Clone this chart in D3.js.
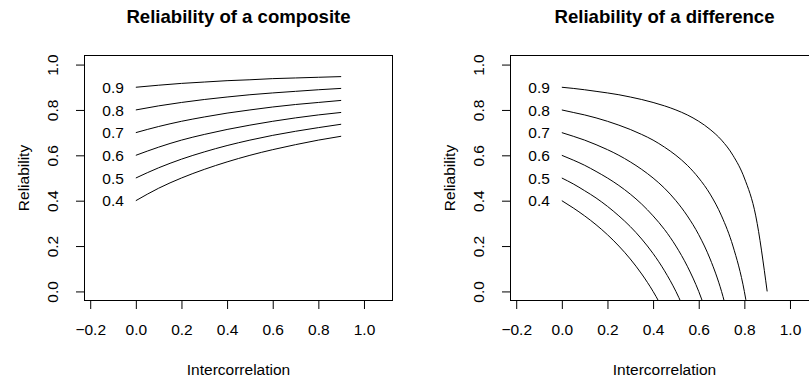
<!DOCTYPE html>
<html>
<head>
<meta charset="utf-8">
<script src="https://cdn.jsdelivr.net/npm/d3@7"></script>
<style>
  body { margin: 0; background: #fff; }
  text { font-family: "Liberation Sans", Arial, Helvetica, sans-serif; fill: #000; }
</style>
</head>
<body>
<div id="chart"></div>
<script>
// Reliability of each pair of tests (curve labels)
const reliabilities = [0.4, 0.5, 0.6, 0.7, 0.8, 0.9];

// Left panel: composite reliability read at intercorrelation 0, .1, ... .9
const compositeX = [0, 0.1, 0.2, 0.3, 0.4, 0.5, 0.6, 0.7, 0.8, 0.9];
const composite04 = [0.400, 0.455, 0.500, 0.538, 0.571, 0.600, 0.625, 0.647, 0.667, 0.684];
const composite05 = [0.500, 0.545, 0.583, 0.615, 0.643, 0.667, 0.688, 0.706, 0.722, 0.737];
const composite06 = [0.600, 0.636, 0.667, 0.692, 0.714, 0.733, 0.750, 0.765, 0.778, 0.789];
const composite07 = [0.700, 0.727, 0.750, 0.769, 0.786, 0.800, 0.813, 0.824, 0.833, 0.842];
const composite08 = [0.800, 0.818, 0.833, 0.846, 0.857, 0.867, 0.875, 0.882, 0.889, 0.895];
const composite09 = [0.900, 0.909, 0.917, 0.923, 0.929, 0.933, 0.938, 0.941, 0.944, 0.947];

// Right panel: difference reliability read at intercorrelation 0, .05, ... (runs off the bottom)
const differenceX = [0, 0.05, 0.1, 0.15, 0.2, 0.25, 0.3, 0.35, 0.4, 0.45,
                     0.5, 0.55, 0.6, 0.65, 0.7, 0.75, 0.8, 0.85, 0.9];
const difference04 = [0.400, 0.368, 0.333, 0.294, 0.250, 0.200, 0.143, 0.077, 0.000, -0.091];
const difference05 = [0.500, 0.474, 0.444, 0.412, 0.375, 0.333, 0.286, 0.231, 0.167, 0.091, 0.000, -0.111];
const difference06 = [0.600, 0.579, 0.556, 0.529, 0.500, 0.467, 0.429, 0.385, 0.333, 0.273, 0.200, 0.111, 0.000, -0.143];
const difference07 = [0.700, 0.684, 0.667, 0.647, 0.625, 0.600, 0.571, 0.538, 0.500, 0.455, 0.400, 0.333, 0.250, 0.143, 0.000, -0.200];
const difference08 = [0.800, 0.789, 0.778, 0.765, 0.750, 0.733, 0.714, 0.692, 0.667, 0.636, 0.600, 0.556, 0.500, 0.429, 0.333, 0.200, 0.000, -0.333];
const difference09 = [0.900, 0.895, 0.889, 0.882, 0.875, 0.867, 0.857, 0.846, 0.833, 0.818, 0.800, 0.778, 0.750, 0.714, 0.667, 0.600, 0.500, 0.333, 0.000];

const xTicks = [-0.2, 0, 0.2, 0.4, 0.6, 0.8, 1.0];
const yTicks = [0, 0.2, 0.4, 0.6, 0.8, 1.0];

const compositeSeries = [composite04, composite05, composite06, composite07, composite08, composite09];
const differenceSeries = [difference04, difference05, difference06, difference07, difference08, difference09];

const width = 809, height = 379;
const labelSize = 15.5, titleSize = 18.6;

const svg = d3.select("#chart").append("svg")
    .attr("width", width)
    .attr("height", height)
    .style("display", "block");

svg.append("rect").attr("width", width).attr("height", height).attr("fill", "#fff");

function drawPanel(left, title, xs, series, id) {
    const x = d3.scaleLinear().domain([-0.225, 1.125]).range([left, left + 308]);
    const y = d3.scaleLinear().domain([-0.04, 1.04]).range([300.5, 55.5]);
    const cx = left + 154;

    // clip so curves stop at the plot box
    svg.append("clipPath").attr("id", id)
        .append("rect")
        .attr("x", x.range()[0]).attr("y", y.range()[1])
        .attr("width", x.range()[1] - x.range()[0])
        .attr("height", y.range()[0] - y.range()[1]);

    // x axis
    const gx = svg.append("g")
        .attr("transform", "translate(0," + y.range()[0] + ")")
        .call(d3.axisBottom(x).tickValues(xTicks).tickSize(8.5).tickFormat(d3.format(".1f")));
    gx.select(".domain").remove();
    gx.selectAll("line").attr("stroke", "#000");
    gx.selectAll("text")
        .attr("y", 34).attr("dy", null)
        .style("font-size", labelSize + "px");

    // y axis with labels turned up the side
    const gy = svg.append("g")
        .attr("transform", "translate(" + x.range()[0] + ",0)")
        .call(d3.axisLeft(y).tickValues(yTicks).tickSize(8.5).tickFormat(d3.format(".1f")));
    gy.select(".domain").remove();
    gy.selectAll("line").attr("stroke", "#000");
    gy.selectAll("text")
        .attr("x", null).attr("dy", null)
        .attr("transform", "translate(-27,0) rotate(-90)")
        .attr("text-anchor", "middle")
        .style("font-size", labelSize + "px");

    // plot box
    svg.append("rect")
        .attr("x", x.range()[0]).attr("y", y.range()[1])
        .attr("width", x.range()[1] - x.range()[0])
        .attr("height", y.range()[0] - y.range()[1])
        .attr("fill", "none").attr("stroke", "#000").attr("stroke-width", 1);

    // curves
    const line = d3.line()
        .x(d => x(d[0]))
        .y(d => y(d[1]))
        .curve(d3.curveMonotoneX);

    series.forEach(vals => {
        const pts = vals.map((v, i) => [xs[i], v]);
        svg.append("path")
            .datum(pts)
            .attr("clip-path", "url(#" + id + ")")
            .attr("fill", "none")
            .attr("stroke", "#000")
            .attr("stroke-width", 1)
            .attr("d", line);
    });

    // curve labels to the left of each start point
    svg.append("g").selectAll("text")
        .data(reliabilities)
        .join("text")
        .attr("x", x(0) - 12)
        .attr("y", d => y(d) + 5.6)
        .attr("text-anchor", "end")
        .style("font-size", labelSize + "px")
        .text(d => d3.format(".1f")(d));

    // title and axis titles
    svg.append("text")
        .attr("x", cx).attr("y", 23)
        .attr("text-anchor", "middle")
        .style("font-size", titleSize + "px")
        .style("font-weight", "bold")
        .text(title);

    svg.append("text")
        .attr("x", cx).attr("y", 374.5)
        .attr("text-anchor", "middle")
        .style("font-size", labelSize + "px")
        .text("Intercorrelation");

    svg.append("text")
        .attr("transform", "translate(" + (left - 56) + "," + ((y.range()[0] + y.range()[1]) / 2) + ") rotate(-90)")
        .attr("text-anchor", "middle")
        .style("font-size", labelSize + "px")
        .text("Reliability");
}

drawPanel(84.5, "Reliability of a composite", compositeX, compositeSeries, "clipA");
drawPanel(510.5, "Reliability of a difference", differenceX, differenceSeries, "clipB");
</script>
</body>
</html>
